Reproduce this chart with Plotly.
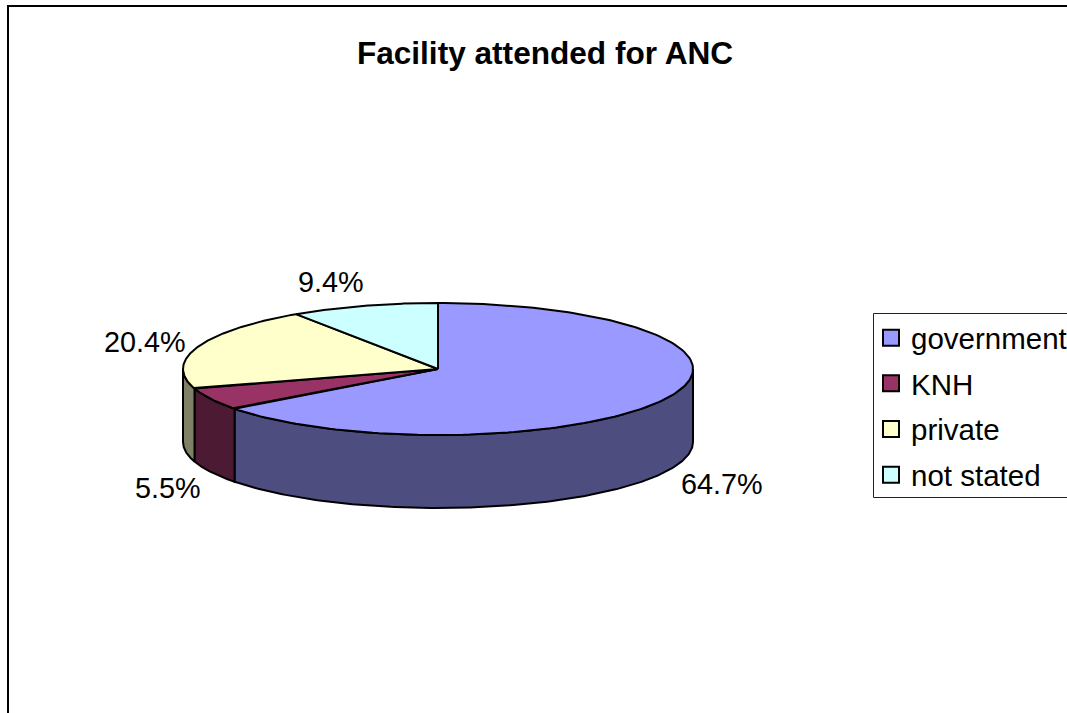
import numpy as np
import plotly.graph_objects as go

categories = ["government", "KNH", "private", "not stated"]
values = [64.7, 5.5, 20.4, 9.4]
labels = ["64.7%", "5.5%", "20.4%", "9.4%"]
top_colors = ["#9999FF", "#993366", "#FFFFCC", "#CCFFFF"]
side_colors = ["#4D4D80", "#4D1A33", "#808066", "#668080"]
title = "Facility attended for ANC"

CX, CY, RX, RY, DEPTH = 438.0, 369.0, 255.0, 66.0, 73.0
W, H = 1110, 750  # the page window crops the frame's right and bottom edges
FONT = "Liberation Sans, Arial, sans-serif"
EDGE = dict(color="black", width=2)


def rim(a0, a1, n=160):
    t = np.linspace(a0, a1, n)
    return CX + RX * np.sin(t), CY - RY * np.cos(t)


fractions = np.array(values) / sum(values)
edges = np.concatenate([[0.0], np.cumsum(fractions)]) * 2 * np.pi

fig = go.Figure()

# Side walls: only the front half of the rim (90deg to 270deg) is visible
for i, c in enumerate(categories):
    a0, a1 = max(edges[i], np.pi / 2), min(edges[i + 1], 3 * np.pi / 2)
    if a1 <= a0:
        continue
    x, y = rim(a0, a1)
    fig.add_trace(go.Scatter(
        x=np.concatenate([x, x[::-1], x[:1]]),
        y=np.concatenate([y, y[::-1] + DEPTH, y[:1]]),
        mode="lines", fill="toself", fillcolor=side_colors[i],
        line=EDGE, hoverinfo="skip", showlegend=False,
    ))

# Top faces
for i, c in enumerate(categories):
    x, y = rim(edges[i], edges[i + 1])
    fig.add_trace(go.Scatter(
        x=np.concatenate([[CX], x, [CX]]),
        y=np.concatenate([[CY], y, [CY]]),
        mode="lines", fill="toself", fillcolor=top_colors[i],
        line=EDGE, name=c, hoverinfo="name", showlegend=False,
    ))

# Legend entries with square swatches
for i, c in enumerate(categories):
    fig.add_trace(go.Scatter(
        x=[None], y=[None], mode="markers", name=c, legendgroup=c,
        marker=dict(symbol="square", size=17, color=top_colors[i],
                    line=dict(color="black", width=2)),
    ))

label_xy = [(721.5, 484), (167.5, 488), (145, 342), (331, 282)]
annotations = [
    dict(x=x, y=y, text=t, showarrow=False, xref="x", yref="y",
         font=dict(family=FONT, size=28.8, color="black"))
    for (x, y), t in zip(label_xy, labels)
]

fig.update_layout(
    width=W, height=H, autosize=False,
    margin=dict(l=0, r=0, t=0, b=0),
    paper_bgcolor="white", plot_bgcolor="white",
    xaxis=dict(range=[0, W], visible=False, fixedrange=True),
    yaxis=dict(range=[H, 0], visible=False, fixedrange=True),
    title=dict(text="<b>%s</b>" % title, x=545 / W, xanchor="center",
               y=1 - 53 / H, yanchor="middle",
               font=dict(family=FONT, size=31.6, color="black")),
    legend=dict(x=873 / W, y=1 - 312 / H, xanchor="left", yanchor="top",
                bgcolor="rgba(0,0,0,0)", borderwidth=0,
                font=dict(family=FONT, size=29.5, color="black"),
                itemwidth=30, itemsizing="trace", indentation=-2,
                tracegroupgap=4.3),
    annotations=annotations,
    shapes=[
        dict(type="rect", xref="x", yref="y", x0=8, y0=6, x1=W + 20, y1=H + 20,
             line=dict(color="black", width=2), layer="below"),
        dict(type="rect", xref="x", yref="y", x0=873.5, y0=313.5, x1=W + 20, y1=497.5,
             line=dict(color="#222222", width=1), fillcolor="white", layer="below"),
    ],
)

fig.write_html(
    "out.html",
    config={"displayModeBar": False},
    post_script="document.body.style.margin='0';document.documentElement.style.overflow='hidden';document.body.style.overflow='hidden';",
)
